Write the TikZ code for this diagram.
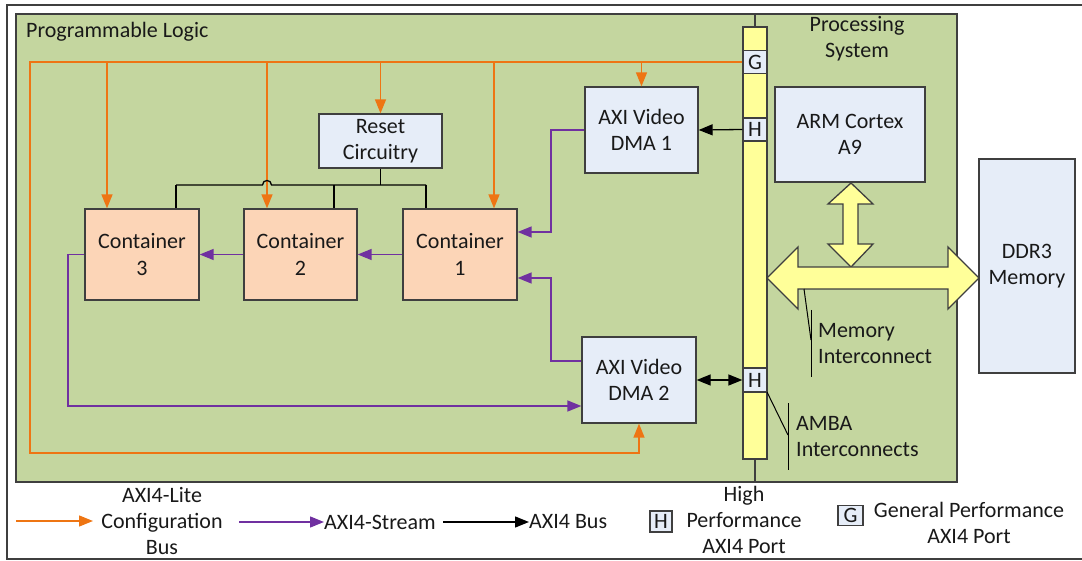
\documentclass[tikz,border=0pt]{standalone}
\usepackage{fontspec}
\setmainfont{Carlito}
\usetikzlibrary{arrows.meta}
\definecolor{plgreen}{HTML}{C4D69F}
\definecolor{boxblue}{HTML}{E6EDF8}
\definecolor{peach}{HTML}{FCD5B7}
\definecolor{busyellow}{HTML}{FFFF99}
\definecolor{orng}{HTML}{EE7513}
\definecolor{purp}{HTML}{7030A0}
\definecolor{edgegray}{HTML}{3F3F3F}
\begin{document}
\begin{tikzpicture}[x=1pt,y=-1pt,
  every node/.style={font=\fontsize{22}{26.5}\selectfont, inner sep=0pt, align=center, text=black!90},
  bluebox/.style={draw=edgegray, line width=1.3pt, fill=boxblue},
  peachbox/.style={draw=edgegray, line width=1.3pt, fill=peach, minimum width=114, minimum height=91},
  port/.style={draw=edgegray, line width=1.3pt, fill=boxblue, minimum width=24},
  obus/.style={draw=orng, line width=1.4pt},
  sbus/.style={draw=purp, line width=1.4pt},
  kbus/.style={draw=black, line width=1.3pt},
  tip/.style={-{Triangle[length=14pt,width=11pt]}},
  btip/.style={{Triangle[length=14pt,width=11pt]}-{Triangle[length=14pt,width=11pt]}},
  thin/.style={draw=black, line width=1pt},
  yarrow/.style={draw=edgegray, line width=1.3pt, fill=busyellow}]
\useasboundingbox (0,0) rectangle (1082,561);
% outer frame
\draw[edgegray, line width=1.2pt] (1082,5) -- (7,5) -- (7,559) -- (1082,559);
% green region
\draw[edgegray, line width=1.5pt, fill=plgreen] (16,14) rectangle (957,482);
\node[anchor=west] (pltitle) at (26,32) {Programmable Logic};
\node (pstitle) at (857,38.5) {Processing\\System};

% bus bar and ports
\coordinate (divtop) at (755,14);
\coordinate (divbot) at (755,482);
\draw[edgegray, line width=1.3pt] (divtop) -- (divbot);
\node[draw=edgegray, fill=busyellow, line width=1.3pt, minimum width=24, minimum height=432] (bar) at (755,243) {};
\node[port, minimum height=23] (G) at (755,62) {G};
\node[port, minimum height=23] (H1) at (755,129.5) {H};
\node[port, minimum height=24] (H2) at (755,380) {H};

% boxes
\node[bluebox, minimum width=123, minimum height=54] (reset) at (380.5,141) {Reset\\Circuitry};
\node[peachbox] (C3) at (142,254.5) {Container\\3};
\node[peachbox, minimum width=113] (C2) at (300.5,254.5) {Container\\2};
\node[peachbox] (C1) at (460,254.5) {Container\\1};
\node[bluebox, minimum width=113, minimum height=86] (DMA1) at (641.5,130) {AXI Video\\DMA 1};
\node[bluebox, minimum width=114, minimum height=86] (DMA2) at (639,380) {AXI Video\\DMA 2};
\node[bluebox, minimum width=150, minimum height=95] (ARM) at (850,134.5) {ARM Cortex\\A9};
\node[bluebox, minimum width=96, minimum height=214] (DDR) at (1027,266) {DDR3\\Memory};

% yellow interconnect arrows
\draw[yarrow] (851,183) -- (873,204) -- (858,204) -- (858,244) -- (873,244) -- (851,267) -- (828,244) -- (843,244) -- (843,204) -- (828,204) -- cycle;
\draw[yarrow] (767,278) -- (798,247) -- (798,267) -- (948,267) -- (948,247) -- (979,278) -- (948,309) -- (948,289) -- (798,289) -- (798,309) -- cycle;

% annotations
\draw[thin] (804,289) -- (811,340);
\draw[thin] (811,310) -- (811,377);
\node[anchor=west, align=left] (memlbl) at (818,343.5) {Memory\\Interconnect};
\draw[thin] (767,392) -- (788,435);
\draw[thin] (788,403) -- (788,470);
\node[anchor=west, align=left] (ambalbl) at (796,436.5) {AMBA\\Interconnects};

% orange configuration bus
\coordinate (oL) at (30,62);
\coordinate (oB) at (30,453);
\coordinate (o3) at (107,62);
\coordinate (o2) at (267,62);
\coordinate (oR) at (380.5,62);
\coordinate (o1) at (494,62);
\coordinate (oD) at (641.5,62);
\draw[obus, tip] (G.west) -- (oL) -- (oB) -| (DMA2.south);
\draw[obus, tip] (o3) -- (o3 |- C3.north);
\draw[obus, tip] (o2) -- (o2 |- C2.north);
\draw[obus, tip] (oR) -- (reset.north);
\draw[obus, tip] (o1) -- (o1 |- C1.north);
\draw[obus, tip] (oD) -- (DMA1.north);

% reset distribution
\coordinate (rj) at (380.5,185);
\coordinate (r3) at (176,185);
\coordinate (r2) at (334,185);
\coordinate (r1) at (426,185);
\draw[kbus] (reset.south) -- (rj);
\draw[kbus] (r3) -- (262.5,185) .. controls (262.5,179) and (271.5,179) .. (271.5,185) -- (r1);
\draw[kbus] (r3) -- (r3 |- C3.north);
\draw[kbus] (r2) -- (r2 |- C2.north);
\draw[kbus] (r1) -- (r1 |- C1.north);

% AXI4-Stream
\coordinate (p1) at (551,232);
\coordinate (p2) at (551,278);
\coordinate (p3) at (68,406);
\draw[sbus, tip] (DMA1.west) -| (p1) -- (p1 -| C1.east);
\draw[sbus, tip] ([yshift=19pt]DMA2.west) -| (p2) -- (p2 -| C1.east);
\draw[sbus, tip] (C1.west) -- (C2.east);
\draw[sbus, tip] (C2.west) -- (C3.east);
\draw[sbus, tip] (C3.west) -| (p3) -- (p3 -| DMA2.west);

% AXI4
\draw[kbus, tip] (H1.west) -- (DMA1.east);
\draw[kbus, btip] (DMA2.east) -- (H2.west);

% legend
\coordinate (l1a) at (16,521);
\coordinate (l1b) at (93,521);
\draw[obus, tip] (l1a) -- (l1b);
\node[font=\fontsize{22}{26}\selectfont] (lg1) at (162,521) {AXI4-Lite\\Configuration\\Bus};
\coordinate (l2a) at (239,522);
\node[anchor=west] (lg2) at (324,522) {AXI4-Stream};
\draw[sbus, tip] (l2a) -- (lg2.west);
\coordinate (l3a) at (443,522);
\node[anchor=west] (lg3) at (529,522) {AXI4 Bus};
\draw[kbus, tip] (l3a) -- (lg3.west);
\node[draw=edgegray, line width=1.1pt, fill=boxblue, minimum width=22, minimum height=21] (lgH) at (661,521.5) {H};
\node[font=\fontsize{22}{26}\selectfont] (lgHt) at (744,520) {High\\Performance\\AXI4 Port};
\node[draw=edgegray, line width=1.1pt, fill=boxblue, minimum width=25, minimum height=20] (lgG) at (850.5,515.5) {G};
\node (lgGt) at (969,523) {General Performance\\AXI4 Port};
\end{tikzpicture}
\end{document}
